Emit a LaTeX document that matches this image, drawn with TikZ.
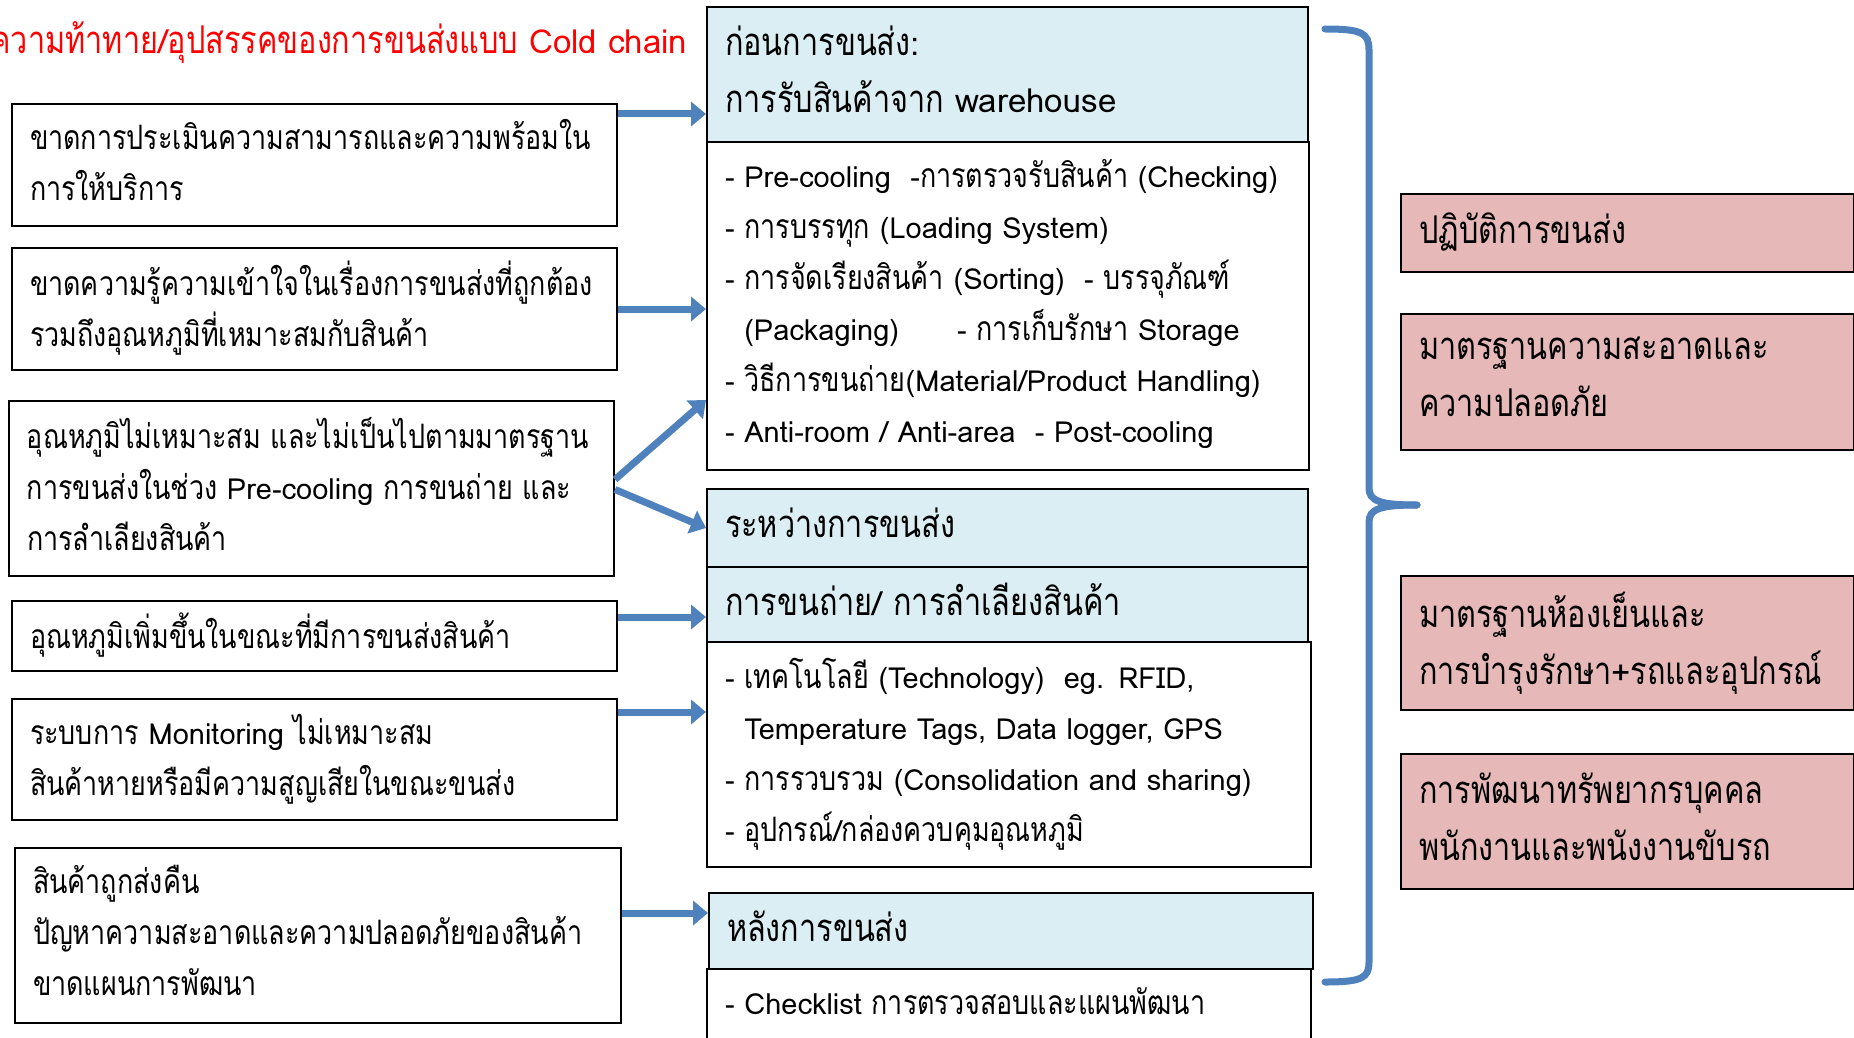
\documentclass[tikz,border=0pt]{standalone}
\usepackage{fontspec}
\setmainfont{Loma}
\newfontfamily\latinfont{Loma}
\newfontfamily\thaifont{Loma}[Script=Thai, Scale=1.16, FakeStretch=0.80]
% Thai letters go to the narrower Thai face
\XeTeXinterchartokenstate=1
\newXeTeXintercharclass\thaiclass
\newcount\thaich
\thaich="0E00
\loop\ifnum\thaich<"0E80 \XeTeXcharclass\thaich=\thaiclass \advance\thaich by 1 \repeat
\XeTeXinterchartoks 0 \thaiclass = {\thaifont}
\XeTeXinterchartoks 4095 \thaiclass = {\thaifont}
\XeTeXinterchartoks \thaiclass 0 = {\latinfont}
\XeTeXinterchartoks \thaiclass 4095 = {\latinfont}
\hyphenpenalty=10000
\usetikzlibrary{arrows.meta}
\definecolor{headblue}{RGB}{219,238,243}
\definecolor{aimpink}{RGB}{230,185,184}
\definecolor{arrowblue}{RGB}{79,129,189}
\tikzset{every picture/.style={line width=0.75pt}}
\tikzset{
  basebox/.style={draw=black, line width=2pt, anchor=north west, align=left, inner xsep=18pt, inner ysep=0pt,
    font=\fontsize{29}{51}\selectfont, execute at end node={\rule[-10pt]{0pt}{10pt}}},
  probbox/.style={basebox, fill=white},
  stagehead/.style={basebox, fill=headblue, font=\fontsize{33}{57}\selectfont},
  stagebody/.style={basebox, fill=white},
  aimbox/.style={basebox, fill=aimpink, font=\fontsize{33}{57}\selectfont},
  flowarrow/.style={draw=arrowblue, line width=7pt, -{Triangle[length=15pt,width=24pt]}},
  bracestyle/.style={draw=arrowblue, line width=7pt, line cap=round}
}

\begin{document}
\begin{tikzpicture}[x=1pt,y=1pt,yscale=-1,xscale=1]
\useasboundingbox (0,0) rectangle (1854,1038);

% Title
\node (title) [anchor=east, text=red, font=\fontsize{33}{40}\selectfont] at (691,43) {ความท้าทาย/อุปสรรคของการขนส่งแบบ Cold chain};

% Problem boxes
\node (p1) [probbox, text width=569, minimum height=122] at (11,103) {ขาดการประเมินความสามารถและความพร้อมใน\\การให้บริการ};
\node (p2) [probbox, text width=569, minimum height=122] at (11,247) {ขาดความรู้ความเข้าใจในเรื่องการขนส่งที่ถูกต้อง\\รวมถึงอุณหภูมิที่เหมาะสมกับสินค้า};
\node (p3) [probbox, text width=569, minimum height=175] at (8,400) {อุณหภูมิไม่เหมาะสม และไม่เป็นไปตามมาตรฐาน\\การขนส่งในช่วง Pre-cooling การขนถ่าย และ\\การลำเลียงสินค้า};
\node (p4) [probbox, text width=569, minimum height=70] at (11,600) {อุณหภูมิเพิ่มขึ้นในขณะที่มีการขนส่งสินค้า};
\node (p5) [probbox, text width=569, minimum height=121] at (11,698) {ระบบการ Monitoring ไม่เหมาะสม\\สินค้าหายหรือมีความสูญเสียในขณะขนส่ง};
\node (p6) [probbox, text width=570, minimum height=175] at (14,847) {สินค้าถูกส่งคืน\\ปัญหาความสะอาดและความปลอดภัยของสินค้า\\ขาดแผนการพัฒนา};

% Stage boxes
\node (before) [stagehead, text width=565, minimum height=135] at (706,6) {ก่อนการขนส่ง:\\การรับสินค้าจาก warehouse};
\node (beforelist) [stagebody, text width=566, minimum height=328] at (706,141) {- Pre-cooling\ \ -การตรวจรับสินค้า (Checking)\\- การบรรทุก (Loading System)\\- การจัดเรียงสินค้า (Sorting)\ \ - บรรจุภัณฑ์\\\phantom{- }(Packaging)\qquad - การเก็บรักษา Storage\\- วิธีการขนถ่าย(Material/Product Handling)\\- Anti-room / Anti-area\ \ - Post-cooling};
\node (during) [stagehead, text width=565, minimum height=78] at (706,488) {ระหว่างการขนส่ง};
\node (handling) [stagehead, text width=565, minimum height=75] at (706,566) {การขนถ่าย/ การลำเลียงสินค้า};
\node (handlinglist) [stagebody, text width=568, minimum height=225] at (706,641) {- เทคโนโลยี (Technology)\ \ eg. RFID,\\\phantom{- }Temperature Tags, Data logger, GPS\\- การรวบรวม (Consolidation and sharing)\\- อุปกรณ์/กล่องควบคุมอุณหภูมิ};
\node (after) [stagehead, text width=568, minimum height=76] at (708,892) {หลังการขนส่ง};
\node (afterlist) [stagebody, text width=568, minimum height=74] at (706,968) {- Checklist การตรวจสอบและแผนพัฒนา};

% Goal boxes
\node (g1) [aimbox, text width=417, minimum height=78] at (1400,193) {ปฏิบัติการขนส่ง};
\node (g2) [aimbox, text width=417, minimum height=136] at (1400,313) {มาตรฐานความสะอาดและ\\ความปลอดภัย};
\node (g3) [aimbox, text width=417, minimum height=134] at (1400,575) {มาตรฐานห้องเย็นและ\\การบำรุงรักษา+รถและอุปกรณ์};
\node (g4) [aimbox, text width=417, minimum height=135] at (1400,753) {การพัฒนาทรัพยากรบุคคล\\พนักงานและพนังงานขับรถ};

% Arrows
\draw[flowarrow] ([yshift=11pt]p1.north east) -- ([yshift=11pt]p1.north east -| before.west);
\draw[flowarrow] (p2.east) -- (p2.east -| beforelist.west);
\draw[flowarrow] ([yshift=-9pt]p3.east) -- ([yshift=-71pt]beforelist.south west);
\draw[flowarrow] ([yshift=1pt]p3.east) -- (during.west);
\draw[flowarrow] ([yshift=-19pt]p4.east) -- ([yshift=-19pt]p4.east -| handling.west);
\draw[flowarrow] ([yshift=14pt]p5.north east) -- ([yshift=14pt]p5.north east -| handlinglist.west);
\draw[flowarrow] ([yshift=66pt]p6.north east) -- ([yshift=66pt]p6.north east -| after.west);

% Brace
\coordinate (bracetip) at (1417,505);
\draw[bracestyle] (1325,29) .. controls (1362,29) and (1369,33) .. (1369,50) -- (1369,488) .. controls (1369,501) and (1380,505) .. (bracetip);
\draw[bracestyle] (bracetip) .. controls (1380,505) and (1369,509) .. (1369,522) -- (1369,962) .. controls (1369,978) and (1362,982) .. (1325,982);

\end{tikzpicture}
\end{document}
